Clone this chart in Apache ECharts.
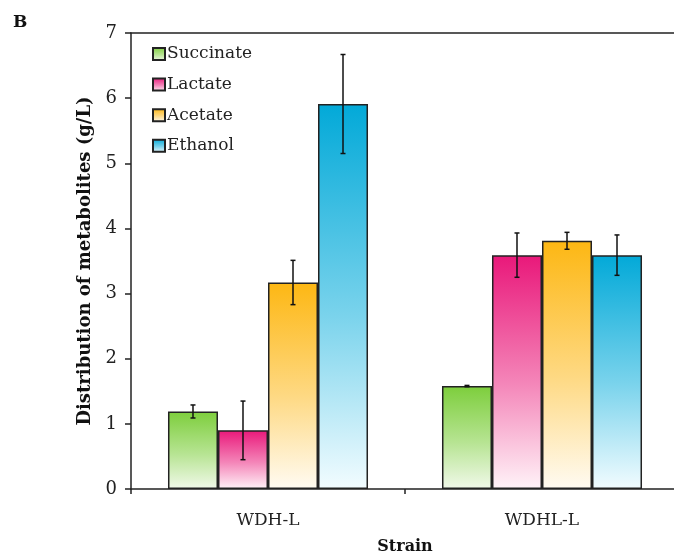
<!DOCTYPE html>
<html>
<head>
<meta charset="utf-8">
<script src="https://cdn.jsdelivr.net/npm/echarts@6/dist/echarts.min.js"></script>
<style>
  html, body { margin: 0; padding: 0; background: #fff; }
  #chart-div { width: 674px; height: 559px; }
</style>
</head>
<body>
<div id="chart-div"></div>
<script>
// data
var strains = ['WDH-L', 'WDHL-L'];
var metabolites = ['Succinate', 'Lactate', 'Acetate', 'Ethanol'];
var succinate = [1.19, 1.58];
var lactate = [0.90, 3.59];
var acetate = [3.17, 3.81];
var ethanol = [5.91, 3.59];
var succinateErr = [0.10, 0.01];
var lactateErr = [0.45, 0.34];
var acetateErr = [0.34, 0.13];
var ethanolErr = [0.76, 0.31];
var yTicks = [0, 1, 2, 3, 4, 5, 6, 7];

var values = [succinate, lactate, acetate, ethanol];
var errors = [succinateErr, lactateErr, acetateErr, ethanolErr];
var colors = [
  ['#7dce3c', '#f1f9ea'],
  ['#e9187a', '#fff3f8'],
  ['#fdb713', '#fffbf2'],
  ['#02a9d8', '#f2fcff']
];

var serif = '"DejaVu Serif", "Liberation Serif", serif';
var myChart = echarts.init(document.getElementById('chart-div'));

function grad(c) {
  return new echarts.graphic.LinearGradient(0, 0, 0, 1, [
    { offset: 0, color: c[0] },
    { offset: 0.55, color: echarts.color.lerp(0.5, [c[0], c[1]]) },
    { offset: 1, color: c[1] }
  ]);
}

var series = [];
metabolites.forEach(function (name, k) {
  series.push({
    name: name,
    type: 'bar',
    data: values[k],
    barGap: 0,
    barCategoryGap: '27%',
    itemStyle: { color: grad(colors[k]), borderColor: '#222', borderWidth: 1.5 }
  });
});

// error bars, drawn on the bar centres
metabolites.forEach(function (name, k) {
  series.push({
    type: 'custom',
    name: name + ' err',
    z: 10,
    data: strains.map(function (s, i) {
      return [i, values[k][i] - errors[k][i], values[k][i] + errors[k][i]];
    }),
    renderItem: function (params, api) {
      var lo = api.coord([api.value(0), api.value(1)]);
      var hi = api.coord([api.value(0), api.value(2)]);
      var band = api.size([1, 0])[0];
      var x = lo[0] + (k - 1.5) * band * 0.73 / 4;
      var cap = 2.5;
      var st = { stroke: '#111', lineWidth: 1.5 };
      return {
        type: 'group',
        children: [
          { type: 'line', shape: { x1: x, y1: hi[1], x2: x, y2: lo[1] }, style: st },
          { type: 'line', shape: { x1: x - cap, y1: hi[1], x2: x + cap, y2: hi[1] }, style: st },
          { type: 'line', shape: { x1: x - cap, y1: lo[1], x2: x + cap, y2: lo[1] }, style: st }
        ]
      };
    }
  });
});

myChart.setOption({
  backgroundColor: '#fff',
  animation: false,
  title: {
    text: 'B',
    left: 8,
    top: 9,
    textStyle: { fontFamily: serif, fontSize: 17, fontWeight: 'bold', color: '#111' }
  },
  legend: {
    data: metabolites,
    orient: 'vertical',
    left: 147,
    top: 40,
    itemWidth: 12,
    itemHeight: 12,
    itemGap: 12.6,
    icon: 'rect',
    textStyle: { fontFamily: serif, fontSize: 17, lineHeight: 18, color: '#222', padding: [0, 0, 0, -3] }
  },
  grid: {
    left: 131,
    top: 33,
    right: -5,
    bottom: 70,
    outerBoundsMode: 'none',
    containLabel: false
  },
  xAxis: [{
    type: 'category',
    data: strains,
    name: 'Strain',
    nameLocation: 'middle',
    nameGap: 50,
    nameTextStyle: { fontFamily: serif, fontSize: 16, fontWeight: 'bold', color: '#111' },
    axisLine: { lineStyle: { color: '#222', width: 1.5 } },
    axisTick: { show: true, length: 5, lineStyle: { color: '#222', width: 1.5 } },
    axisLabel: { fontFamily: serif, fontSize: 17, color: '#222', margin: 23 }
  }, {
    type: 'category',
    data: strains,
    position: 'top',
    axisLine: { show: true, lineStyle: { color: '#222', width: 1.5 } },
    axisTick: { show: false },
    axisLabel: { show: false }
  }],
  yAxis: {
    type: 'value',
    min: 0,
    max: 7,
    interval: 1,
    name: 'Distribution of metabolites (g/L)',
    nameLocation: 'middle',
    nameGap: 36,
    nameTextStyle: { fontFamily: serif, fontSize: 18, fontWeight: 'bold', color: '#111' },
    splitLine: { show: false },
    axisLine: { show: true, lineStyle: { color: '#222', width: 1.5 } },
    axisTick: { show: true, length: 6, lineStyle: { color: '#222', width: 1.5 } },
    axisLabel: {
      fontFamily: serif, fontSize: 18, color: '#222', margin: 14,
      formatter: function (v) { return yTicks.indexOf(v) >= 0 ? String(v) : ''; }
    }
  },
  series: series
});
</script>
</body>
</html>
